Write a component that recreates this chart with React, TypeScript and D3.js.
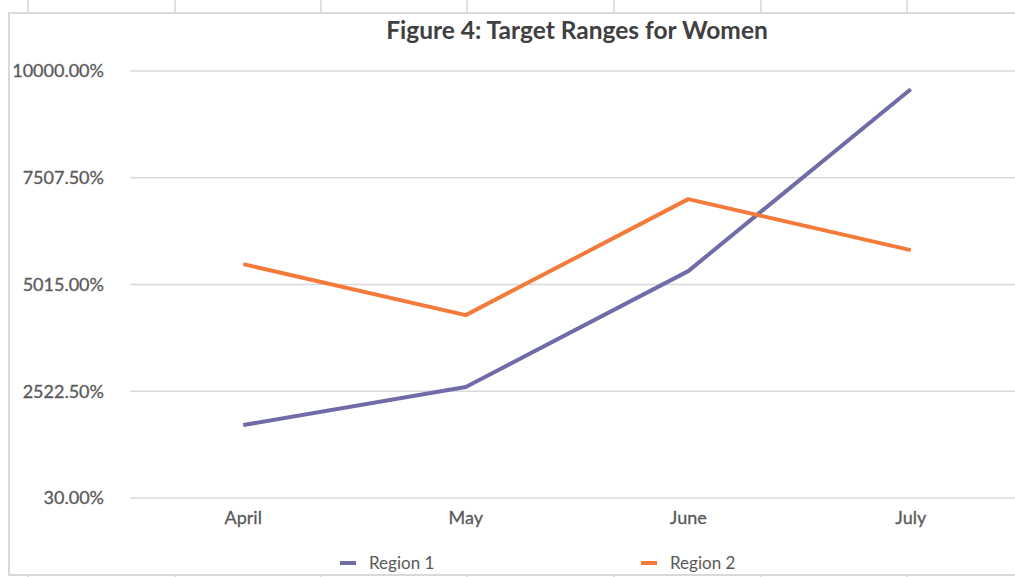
import React from "react";
import * as d3 from "d3";

const months = ["April", "May", "June", "July"];
const region1 = [1733, 2620, 5327, 9575];
const region2 = [5491, 4300, 7008, 5818];
const yTicks = [30, 2522.5, 5015, 7507.5, 10000];
const seriesNames = ["Region 1", "Region 2"];

const W = 1015;
const H = 577;
const colors = ["#706ca8", "#f47a3a"];
const font = "Lato, 'Open Sans', sans-serif";

export default function App() {
  const x = d3.scaleBand<string>().domain(months).range([132, 1022]);
  const y = d3.scaleLinear().domain([30, 10000]).range([498, 71]);
  const cx = (m: string) => (x(m) as number) + x.bandwidth() / 2;

  const line = d3
    .line<number>()
    .x((d, i) => cx(months[i]))
    .y((d) => y(d));

  const fmt = (v: number) => v.toFixed(2) + "%";

  // spreadsheet cell borders behind the chart
  const cellLines = [28, 175, 321, 467, 614, 761, 907];

  return (
    <svg
      width={W}
      height={H}
      style={{ position: "absolute", left: 0, top: 0, background: "#fff" }}
    >
      {cellLines.map((cl) => (
        <g key={cl}>
          <line x1={cl} x2={cl} y1={0} y2={12} stroke="#bfbfbf" />
          <line x1={cl} x2={cl} y1={575} y2={577} stroke="#bfbfbf" />
        </g>
      ))}
      <rect
        x={9}
        y={13}
        width={W + 10}
        height={562}
        fill="#fff"
        stroke="#d9d9d9"
        strokeWidth={2}
      />

      <text
        x={577}
        y={39}
        textAnchor="middle"
        fontFamily={font}
        fontWeight="bold"
        fontSize={24.5}
        fill="#404040"
      >
        Figure 4: Target Ranges for Women
      </text>

      {yTicks.map((t) => (
        <g key={t}>
          <line x1={130} x2={W} y1={y(t)} y2={y(t)} stroke="#d9d9d9" strokeWidth={1.5} />
          <text
            x={104}
            y={y(t)}
            dy="0.35em"
            textAnchor="end"
            fontFamily={font}
            fontSize={18}
            fill="#595959"
            stroke="#595959"
            strokeWidth={0.3}
          >
            {fmt(t)}
          </text>
        </g>
      ))}

      {months.map((m) => (
        <text
          key={m}
          x={cx(m)}
          y={524}
          textAnchor="middle"
          fontFamily={font}
          fontSize={18}
          fill="#595959"
          stroke="#595959"
          strokeWidth={0.3}
        >
          {m}
        </text>
      ))}

      {[region1, region2].map((s, i) => (
        <path
          key={i}
          d={line(s) as string}
          fill="none"
          stroke={colors[i]}
          strokeWidth={4}
          strokeLinejoin="round"
        />
      ))}

      {seriesNames.map((n, i) => (
        <g key={n} transform={`translate(${340 + i * 301},563)`}>
          <line x1={0} x2={16} y1={0} y2={0} stroke={colors[i]} strokeWidth={4} />
          <text
            x={29}
            y={0}
            dy="0.35em"
            fontFamily={font}
            fontSize={17}
            fill="#595959"
          >
            {n}
          </text>
        </g>
      ))}
    </svg>
  );
}
